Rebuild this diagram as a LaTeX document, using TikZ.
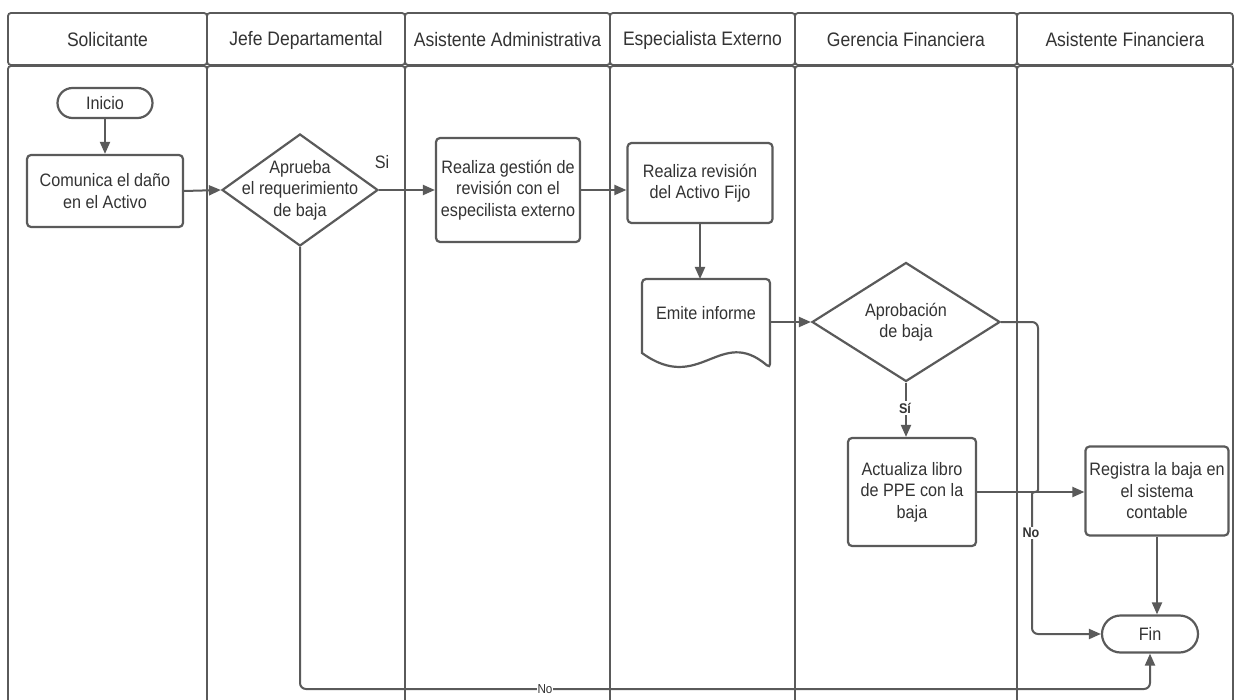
\documentclass[tikz,border=0pt]{standalone}
\usepackage{fontspec}
\setmainfont{Liberation Sans}[FakeStretch=0.9]
\usetikzlibrary{arrows.meta,shapes.geometric,shapes.misc,calc}
\definecolor{ln}{HTML}{5A5A5A}
\definecolor{tx}{HTML}{333333}
\tikzset{
  lane/.style={draw=ln, line width=1.8pt, rounded corners=3pt},
  lanetitle/.style={text=tx, font=\fontsize{19.5}{23}\selectfont},
  body/.style={text=tx, font=\fontsize{18}{21.5}\selectfont, align=center},
  procbox/.style={body, draw=ln, line width=2.2pt, rounded corners=4pt, fill=white, inner sep=0pt},
  termbox/.style={body, draw=ln, line width=2.2pt, rounded rectangle, fill=white, inner sep=0pt},
  decbox/.style={diamond, draw=ln, line width=2.2pt, fill=white, inner sep=0pt},
  flow/.style={draw=ln, line width=2pt, -{Triangle[length=12pt,width=10pt]}},
  boldlbl/.style={text=tx, font=\fontsize{14}{16}\bfseries\selectfont, fill=white, inner sep=1.5pt},
  thinlbl/.style={text=tx, font=\fontsize{13}{15}\selectfont, fill=white, inner sep=1pt},
}
\begin{document}
\begin{tikzpicture}[x=1pt,y=-1pt]
\useasboundingbox (0,0) rectangle (1241,700);
\fill[white] (0,0) rectangle (1241,700);

% swimlanes
\begin{scope}
\clip (0,0) rectangle (1241,700);
\foreach \xa/\xb/\name [count=\i] in {8/207/Solicitante, 207/405/Jefe Departamental, 405/610/Asistente Administrativa, 610/795/Especialista Externo, 795/1017/Gerencia Financiera, 1017/1233/Asistente Financiera}{
  \draw[lane] (\xa,13) rectangle (\xb,65);
  \draw[lane] (\xa,66) rectangle (\xb,720);
  \node[lanetitle] (lane\i) at ({(\xa+\xb)/2},40) {\name};
}
\end{scope}

% process steps
\node[termbox, minimum width=95pt, minimum height=30pt] (inicio) at (105,103) {Inicio};
\node[procbox, minimum width=156pt, minimum height=72pt] (comunica) at (105,191) {Comunica el daño\\en el Activo};
\node[decbox, minimum width=156pt, minimum height=112pt,
      label={[body]center:{Aprueba\\el requerimiento\\de baja}}] (aprueba) at (300,190) {};
\node[procbox, minimum width=144pt, minimum height=104pt] (gestion) at (508,190) {Realiza gestión de\\revisión con el\\especilista externo};
\node[procbox, minimum width=145pt, minimum height=80pt] (revision) at (700,183) {Realiza revisión\\del Activo Fijo};

% document shape with wavy lower edge
\draw[ln, line width=2.2pt, fill=white, rounded corners=4pt]
  (642,353) -- (642,279) -- (770,279) -- (770,368) [sharp corners]
  .. controls (720,325) and (700,395) .. (642,353) -- cycle;
\node[body] (emite) at (706,313) {Emite informe};
\coordinate (docTop) at (700,279);
\coordinate (docRight) at (770,322);

\node[decbox, minimum width=188pt, minimum height=119pt,
      label={[body]center:{Aprobación\\de baja}}] (aprobacion) at (906,322) {};
\node[procbox, minimum width=128pt, minimum height=108pt] (actualiza) at (912,492) {Actualiza libro\\de PPE con la\\baja};
\node[procbox, minimum width=143pt, minimum height=89pt] (registra) at (1157,491) {Registra la baja en\\el sistema\\contable};
\node[termbox, minimum width=96pt, minimum height=37pt] (fin) at (1150,634) {Fin};

% connectors
\draw[flow] (inicio.south) -- (comunica.north);
\draw[flow] (comunica.east) -- (aprueba.west);
\draw[flow] (aprueba.east) -- (gestion.west);
\node[body] (si) at (382,162) {Si};
\draw[flow] (gestion.east) -- (gestion.east -| revision.west);
\draw[flow] (revision.south -| docTop) -- (docTop);
\draw[flow] (docRight) -- (aprobacion.west);
\draw[flow] (aprobacion.south) -- (aprobacion.south |- actualiza.north);
\node[boldlbl] (silbl) at (905,408) {Sí};
\draw[flow] (actualiza.east) -- (actualiza.east -| registra.west);
\draw[flow] (registra.south) -- (registra.south |- fin.north);

% "No" branch of the approval, hopping over the crossing line
\coordinate (hopTop) at (1038,484);
\coordinate (hopBot) at (1032,500);
\draw[flow, rounded corners=6pt] (aprobacion.east) -- (aprobacion.east -| hopTop) -- (hopTop)
  .. controls (1038,493) and (1032,491) .. (hopBot) -- (hopBot |- fin.west) -- (fin.west);
\node[boldlbl] (nolbl) at (1031,533) {No};

% "No" branch of the first decision
\coordinate (noCorner) at (300,689);
\draw[flow, rounded corners=6pt] (aprueba.south) -- (noCorner) -- (noCorner -| fin.south) -- (fin.south);
\node[thinlbl] (nobottom) at (545,689) {No};
\end{tikzpicture}
\end{document}
